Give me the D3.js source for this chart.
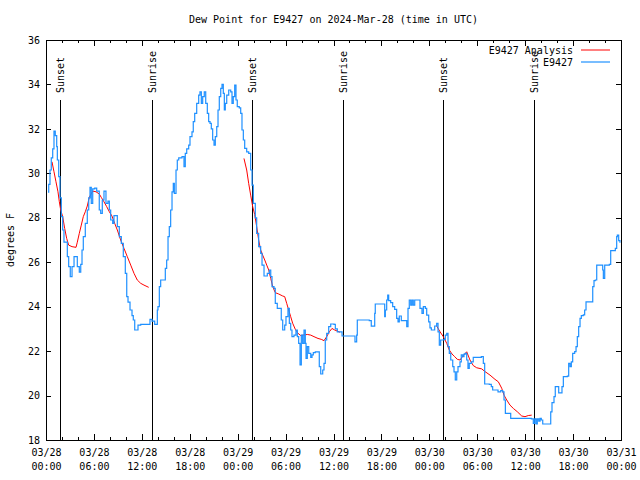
<!DOCTYPE html>
<html>
<head>
<meta charset="utf-8">
<script src="https://cdn.jsdelivr.net/npm/d3@7"></script>
<style>
  body { margin: 0; background: #fff; }
  text { font-family: "DejaVu Sans Mono", monospace; font-size: 10px; fill: #000; }
</style>
</head>
<body>
<script>
// hours after 2024-03-28 00:00 UTC, dew point in F
var obsPoints = [
  [0.25,29.15],[0.34,29.5],[0.50,30.15],[0.66,30.7],[0.84,31.1],[1.00,31.9],[1.16,31.7],[1.34,31.2],
  [1.42,30.6],[1.59,29.85],[1.75,28.9],[1.92,28.05],[2.09,27.45],[2.25,26.9],[2.50,26.9],[2.67,26.25],
  [2.84,25.8],[3.04,25.35],[3.26,25.8],[3.51,26.25],[3.76,26.25],[3.92,25.8],[4.17,25.55],[4.35,25.9],
  [4.51,26.55],[4.67,27.15],[4.92,27.75],[5.17,28.35],[5.35,28.9],[5.51,29.37],[5.67,28.65],[5.85,29.3],
  [6.10,29.33],[6.35,29.2],[6.51,29.2],[6.67,28.35],[6.85,28.2],[7.05,28.8],[7.26,29.2],[7.51,28.65],
  [7.76,28.75],[7.93,28.35],[8.10,27.9],[8.35,27.75],[8.51,28.1],[8.77,28.1],[8.93,27.6],[9.18,27.15],
  [9.43,26.85],[9.68,26.25],[9.93,25.5],[10.11,24.45],[10.27,24.2],[10.52,23.85],[10.77,23.6],[10.93,23.4],
  [11.11,22.95],[11.27,22.95],[11.52,23.17],[11.86,23.2],[12.27,23.2],[12.77,23.2],[13.02,23.43],[13.27,23.35],
  [13.61,23.2],[13.86,23.2],[13.94,23.85],[14.02,24.0],[14.19,24.9],[14.36,25.2],[14.78,25.2],[14.94,25.72],
  [15.11,26.1],[15.28,27.15],[15.44,27.6],[15.61,28.35],[15.78,29.17],[15.94,29.55],[16.07,29.1],[16.28,30.15],
  [16.44,30.6],[16.62,30.7],[17.03,30.75],[17.28,30.3],[17.44,30.9],[17.62,31.1],[17.87,31.27],[18.03,31.65],
  [18.28,31.87],[18.44,32.33],[18.62,32.7],[18.87,33.15],[19.12,33.52],[19.28,33.67],[19.45,33.15],[19.62,33.45],
  [19.82,33.67],[20.00,33.15],[20.20,32.7],[20.37,32.33],[20.54,32.25],[20.70,32.0],[20.87,31.5],[21.04,31.27],
  [21.20,31.65],[21.38,32.1],[21.54,32.85],[21.70,33.45],[21.88,33.82],[22.04,34.0],[22.20,33.6],[22.33,32.85],
  [22.45,33.15],[22.63,33.52],[22.88,33.75],[23.13,33.67],[23.29,33.15],[23.45,33.45],[23.63,33.97],[23.79,33.3],
  [23.95,33.0],[24.20,32.95],[24.38,32.7],[24.54,31.95],[24.71,31.5],[24.88,31.12],[25.13,30.97],[25.38,30.9],
  [25.63,30.15],[25.80,29.47],[25.96,28.65],[26.21,28.0],[26.38,27.3],[26.63,26.7],[26.88,26.4],[27.05,25.87],
  [27.30,25.38],[27.55,25.38],[27.71,25.5],[27.96,25.65],[28.14,25.35],[28.30,24.9],[28.55,24.82],[28.71,24.15],
  [28.96,23.92],[29.30,23.92],[29.46,23.4],[29.64,22.95],[29.89,23.17],[30.05,23.55],[30.30,23.92],[30.47,23.25],
  [30.64,22.95],[30.80,22.65],[31.05,22.72],[31.30,22.95],[31.47,22.65],[31.64,22.35],[31.81,21.38],[31.97,22.72],
  [32.14,22.35],[32.31,22.95],[32.47,22.35],[32.56,21.67],[32.72,22.2],[32.90,21.9],[33.15,21.72],[33.31,21.83],
  [33.47,21.93],[33.72,21.97],[34.06,21.97],[34.22,21.3],[34.40,20.97],[34.65,21.15],[34.81,21.45],[34.97,22.5],
  [35.15,22.8],[35.40,23.1],[35.65,23.22],[36.06,23.2],[36.23,23.0],[36.48,22.87],[36.81,22.87],[37.07,22.68],
  [37.65,22.68],[38.48,22.68],[38.69,22.42],[38.90,22.72],[38.98,23.4],[39.73,23.4],[40.48,23.37],[40.73,23.12],
  [40.98,23.12],[41.16,23.7],[41.23,24.12],[42.24,24.12],[42.41,23.55],[42.49,23.85],[42.66,24.3],[42.79,24.52],
  [42.91,24.27],[43.16,24.18],[43.41,24.0],[43.66,23.88],[43.91,23.47],[44.08,23.32],[44.24,23.58],[44.49,23.37],
  [44.99,23.37],[45.17,23.1],[45.33,23.92],[45.49,24.3],[45.67,24.07],[45.83,24.3],[45.99,24.07],[46.17,24.3],
  [46.67,24.3],[46.83,23.92],[47.08,23.7],[47.25,24.0],[47.50,23.92],[47.67,23.62],[47.92,23.32],[48.08,23.05],
  [48.25,22.95],[48.50,22.95],[48.67,23.13],[48.92,23.25],[49.09,22.87],[49.25,22.27],[49.42,22.5],[49.84,22.53],
  [50.00,22.72],[50.18,22.8],[50.34,22.2],[50.50,21.9],[50.68,21.6],[50.93,21.3],[51.09,21.07],[51.25,20.7],
  [51.43,21.07],[51.59,21.3],[51.84,21.52],[52.00,21.83],[52.18,21.75],[52.34,21.86],[52.50,21.9],[52.68,21.6],
  [52.84,21.22],[53.00,21.45],[53.25,21.52],[53.50,21.72],[54.51,21.75],[54.76,21.45],[54.93,20.52],[55.51,20.5],
  [55.76,20.4],[55.93,20.25],[56.60,20.17],[56.94,20.22],[57.19,20.17],[57.35,19.8],[57.52,19.2],[58.01,19.2],
  [58.19,18.97],[60.77,18.95],[61.02,18.75],[61.19,18.95],[61.36,18.72],[61.52,18.95],[61.70,18.85],[61.86,18.97],
  [62.02,18.9],[62.20,18.72],[63.02,18.72],[63.20,19.27],[63.36,19.68],[63.61,19.95],[63.77,20.4],[63.95,20.4],
  [64.20,20.12],[64.45,20.12],[64.61,20.4],[64.78,20.85],[65.28,20.87],[65.45,21.45],[65.62,21.3],[65.78,21.52],
  [65.95,21.9],[66.20,21.98],[66.37,22.2],[66.53,22.65],[66.70,23.1],[66.87,23.47],[67.03,23.6],[67.28,23.63],
  [67.45,23.85],[67.62,24.22],[68.28,24.22],[68.46,24.9],[68.62,25.17],[68.78,25.2],[68.96,25.87],[69.53,25.87],
  [69.71,25.65],[69.79,25.27],[69.96,25.87],[70.54,25.9],[70.71,26.52],[71.29,26.62],[71.46,27.15],[71.54,27.22],
  [71.71,26.97],[71.87,26.88]
];

var analysisDay1 = [
  [0.75,30.52],[1.0,30.07],[1.25,29.62],[1.5,29.17],[1.67,28.72],[1.84,28.35],[2.09,28.05],[2.34,27.52],
  [2.59,27.07],[2.84,26.77],[3.26,26.7],[3.76,26.67],[3.92,26.9],[4.17,27.3],[4.42,27.67],[4.67,28.05],
  [4.92,28.27],[5.17,28.53],[5.42,28.92],[5.85,29.2],[6.26,29.17],[6.67,29.07],[6.92,28.92],[7.26,28.72],
  [7.6,28.5],[7.93,28.27],[8.26,28.08],[8.6,27.75],[8.93,27.45],[9.35,27.0],[9.77,26.62],[10.18,26.25],
  [10.61,25.87],[11.02,25.5],[11.43,25.2],[11.86,25.05],[12.27,24.97],[12.86,24.87]
];
var analysisDay2 = [
  [24.79,30.67],[25.13,30.15],[25.38,29.55],[25.63,29.02],[25.88,28.5],[26.13,28.15],[26.38,27.6],[26.63,27.0],
  [26.88,26.55],[27.13,26.32],[27.39,26.1],[27.64,25.87],[27.89,25.65],[28.14,25.27],[28.39,24.9],[28.71,24.63],
  [29.14,24.57],[29.64,24.48],[29.89,24.45],[30.14,24.15],[30.39,23.85],[30.64,23.55],[30.89,23.25],[31.22,22.98],
  [31.56,22.8],[31.89,22.7],[32.22,22.72],[32.72,22.75],[33.15,22.72],[33.56,22.65],[34.06,22.57],[34.47,22.53],
  [34.81,22.47],[35.15,22.65],[35.48,22.87],[35.81,23.02],[36.15,22.95],[36.48,22.9],[36.81,22.85]
];
var analysisDay3 = [
  [48.92,23.13],[49.34,22.87],[49.75,22.65],[50.18,22.35],[50.5,22.05],[50.84,21.87],[51.18,21.75],[51.5,21.63],
  [51.84,21.6],[52.25,21.8],[52.68,21.97],[53.09,21.6],[53.5,21.35],[53.93,21.25],[54.56,21.2],[54.97,21.08],
  [55.6,20.92],[56.22,20.73],[56.64,20.62],[57.06,20.33],[57.35,20.02],[57.69,19.8],[58.1,19.57],[58.52,19.42],
  [59.02,19.27],[59.57,19.08],[59.98,19.05],[60.39,19.1],[60.82,19.12]
];

var sunEvents = ["Sunset", "Sunrise", "Sunset", "Sunrise", "Sunset", "Sunrise"];
var sunHours = [1.8, 13.31, 25.84, 37.23, 49.75, 61.15];
var sunLineTop = 33.3;

var yTicks = [18, 20, 22, 24, 26, 28, 30, 32, 34, 36];
var legendNames = ["E9427 Analysis", "E9427"];

var width = 640, height = 480;
var plotLeft = 46, plotRight = 621, plotTop = 40, plotBottom = 440;
var start = Date.UTC(2024, 2, 28);
var end = Date.UTC(2024, 2, 31);
var toDate = function(h){ return new Date(start + h * 3600000); };

var xScale = d3.scaleUtc().domain([start, end]).range([plotLeft, plotRight]);
var yScale = d3.scaleLinear().domain([18, 36]).range([plotBottom, plotTop]);

var svg = d3.select("body").append("svg")
            .attr("width", width).attr("height", height);

svg.append("text")
   .attr("x", (plotLeft + plotRight) / 2).attr("y", 23)
   .attr("text-anchor", "middle")
   .text("Dew Point for E9427 on 2024-Mar-28 (time in UTC)");

// minor x ticks (every 2 hours), bottom and top
svg.append("g").attr("transform", "translate(0," + plotBottom + ")")
   .call(d3.axisBottom(xScale).ticks(d3.utcHour.every(2)).tickSize(-3).tickFormat(""));
svg.append("g").attr("transform", "translate(0," + plotTop + ")")
   .call(d3.axisTop(xScale).ticks(d3.utcHour.every(2)).tickSize(-3).tickFormat(""));

var fmtDay = d3.utcFormat("%m/%d"), fmtTime = d3.utcFormat("%H:%M");
var xAxis = svg.append("g").attr("transform", "translate(0," + plotBottom + ")")
   .call(d3.axisBottom(xScale).ticks(d3.utcHour.every(6)).tickSize(-6).tickPadding(12).tickFormat(""));
xAxis.selectAll(".tick text").each(function(d){
  var t = d3.select(this);
  t.append("tspan").attr("x", 0).attr("dy", "0.4em").text(fmtDay(d));
  t.append("tspan").attr("x", 0).attr("dy", "1.4em").text(fmtTime(d));
});
svg.append("g").attr("transform", "translate(0," + plotTop + ")")
   .call(d3.axisTop(xScale).ticks(d3.utcHour.every(6)).tickSize(-6).tickFormat(""));

svg.append("g").attr("transform", "translate(" + plotLeft + ",0)")
   .call(d3.axisLeft(yScale).tickValues(yTicks).tickSize(-5).tickPadding(6).tickFormat(d3.format("d")));
svg.append("g").attr("transform", "translate(" + plotRight + ",0)")
   .call(d3.axisRight(yScale).tickValues(yTicks).tickSize(-5).tickFormat(""));

svg.selectAll(".domain").remove();
svg.selectAll(".tick line").attr("stroke", "#000").attr("shape-rendering", "crispEdges");
svg.selectAll(".tick text").attr("font-family", "DejaVu Sans Mono").attr("font-size", 10).attr("fill", "#000");

svg.append("rect")
   .attr("x", plotLeft).attr("y", plotTop)
   .attr("width", plotRight - plotLeft).attr("height", plotBottom - plotTop)
   .attr("fill", "none").attr("stroke", "#000")
   .attr("shape-rendering", "crispEdges");

svg.append("text")
   .attr("transform", "translate(14," + ((plotTop + plotBottom) / 2) + ") rotate(-90)")
   .attr("text-anchor", "middle")
   .text("degrees F");

// sunrise / sunset markers
svg.selectAll(".sunline").data(sunHours).enter().append("line")
   .attr("x1", function(d){ return xScale(toDate(d)); })
   .attr("x2", function(d){ return xScale(toDate(d)); })
   .attr("y1", yScale(sunLineTop)).attr("y2", plotBottom)
   .attr("stroke", "#000").attr("shape-rendering", "crispEdges");
svg.selectAll(".sunlabel").data(sunHours).enter().append("text")
   .attr("transform", function(d){
     return "translate(" + (xScale(toDate(d)) + 4) + "," + (yScale(sunLineTop) - 7) + ") rotate(-90)";
   })
   .text(function(d, i){ return sunEvents[i]; });

var line = d3.line()
             .x(function(d){ return xScale(toDate(d[0])); })
             .y(function(d){ return yScale(d[1]); });

[analysisDay1, analysisDay2, analysisDay3].forEach(function(seg){
  svg.append("path").datum(seg)
     .attr("d", line)
     .attr("fill", "none").attr("stroke", "#ff0000").attr("stroke-width", 1);
});

svg.append("path").datum(obsPoints)
   .attr("d", line.curve(d3.curveStepAfter))
   .attr("fill", "none").attr("stroke", "#1e90ff").attr("stroke-width", 1.2);

// legend
var legendColors = ["#ff0000", "#1e90ff"];
legendNames.forEach(function(name, i){
  var y = 50 + i * 12;
  svg.append("text").attr("x", 573).attr("y", y).attr("dy", "0.35em")
     .attr("text-anchor", "end").text(name);
  svg.append("line").attr("x1", 581).attr("x2", 610).attr("y1", y).attr("y2", y)
     .attr("stroke", legendColors[i]).attr("stroke-width", i == 0 ? 1 : 1.2);
});
</script>
</body>
</html>
